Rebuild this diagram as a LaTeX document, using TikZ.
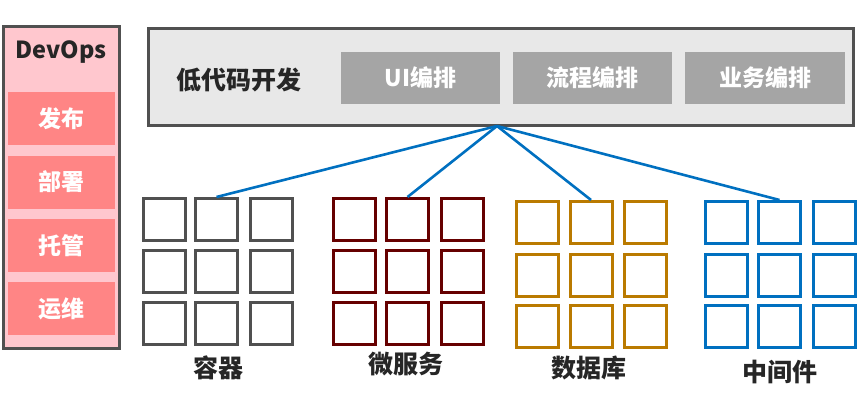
\documentclass[tikz,border=0pt]{standalone}
\usepackage{fontspec}
\setmainfont{Noto Sans CJK SC}
\definecolor{frameg}{HTML}{505050}
\definecolor{pinkbg}{RGB}{255,199,206}
\definecolor{pinkbtn}{RGB}{255,133,133}
\definecolor{topbg}{HTML}{E8E8E8}
\definecolor{btngray}{HTML}{A5A5A5}
\definecolor{cgray}{HTML}{505050}
\definecolor{cred}{HTML}{660000}
\definecolor{cgold}{HTML}{BA7A00}
\definecolor{cblue}{HTML}{0070C0}
\tikzset{
  panel/.style={draw=frameg, line width=3pt, inner sep=0pt},
  pinkbox/.style={fill=pinkbtn, minimum width=107pt, minimum height=53pt, inner sep=0pt, text=white, font=\fontsize{23}{26}\selectfont\bfseries},
  graybox/.style={fill=btngray, minimum width=159pt, minimum height=52pt, inner sep=0pt, text=white, font=\fontsize{23}{26}\selectfont\bfseries},
  cell/.style={draw=#1, line width=3pt, minimum width=42pt, minimum height=42pt, inner sep=0pt},
  lbl/.style={font=\fontsize{25}{28}\selectfont\bfseries, text=black!85},
  link/.style={draw=cblue, line width=2.6pt}
}
\begin{document}
\begin{tikzpicture}[x=1pt,y=-1pt]
\useasboundingbox (0,0) rectangle (858,401);
% DevOps panel
\node[panel, fill=pinkbg, minimum width=116pt, minimum height=322pt] (dev) at (61.5,187.5) {};
\node[lbl, font=\fontsize{23.5}{26}\selectfont\bfseries] (devt) at (61,52) {DevOps};
\node[pinkbox] (fb) at (61.5,118.5) {发布};
\node[pinkbox] (bs) at (61.5,182) {部署};
\node[pinkbox] (tg) at (61.5,245.5) {托管};
\node[pinkbox] (yw) at (61.5,308.5) {运维};
% top panel
\node[panel, fill=topbg, minimum width=705pt, minimum height=97pt] (top) at (501,77) {};
\node[lbl] (dd) at (239,80) {低代码开发};
\node[graybox] (ui) at (420.5,78) {UI编排};
\node[graybox] (lc) at (592.5,78) {流程编排};
\node[graybox, minimum width=160pt] (yb) at (765,78) {业务编排};
\coordinate (hub) at (497,126);
% grids
\foreach \g/\col/\xa/\xb/\xc/\ya/\yb/\yc in {
  c/cgray/164/216.5/271.5/219.5/271.5/323.5,
  m/cred/354.5/407.5/462.5/219.5/271.5/323.5,
  d/cgold/537/591/645.5/222.5/275/326.5,
  z/cblue/726.5/779.5/834.5/222.5/275/326.5}{
  \node[cell=\col] (\g11) at (\xa,\ya) {};
  \node[cell=\col] (\g12) at (\xb,\ya) {};
  \node[cell=\col] (\g13) at (\xc,\ya) {};
  \node[cell=\col] (\g21) at (\xa,\yb) {};
  \node[cell=\col] (\g22) at (\xb,\yb) {};
  \node[cell=\col] (\g23) at (\xc,\yb) {};
  \node[cell=\col] (\g31) at (\xa,\yc) {};
  \node[cell=\col] (\g32) at (\xb,\yc) {};
  \node[cell=\col] (\g33) at (\xc,\yc) {};
}
% connectors
\draw[link] (hub) -- (c12.north);
\draw[link] (hub) -- (m12.north);
\draw[link] (hub) -- (d12.north);
\draw[link] (hub) -- (z12.north);
% labels
\node[lbl] (lc1) at (218,368) {容器};
\node[lbl] (lc2) at (406,364) {微服务};
\node[lbl] (lc3) at (589,368) {数据库};
\node[lbl] (lc4) at (780,372) {中间件};
\end{tikzpicture}
\end{document}
